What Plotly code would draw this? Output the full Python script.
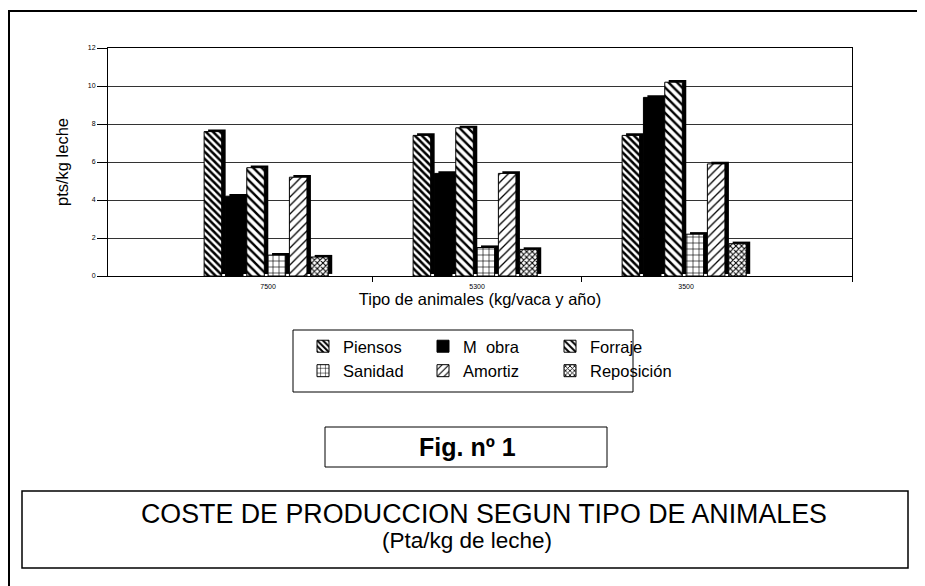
import plotly.graph_objects as go

# ---------------- data ----------------
categories = ["7500", "5300", "3500"]
series_names = ["Piensos", "M  obra", "Forraje", "Sanidad", "Amortiz", "Reposición"]
piensos = [7.6, 7.4, 7.4]
m_obra = [4.2, 5.4, 9.4]
forraje = [5.7, 7.8, 10.2]
sanidad = [1.1, 1.5, 2.2]
amortiz = [5.2, 5.4, 5.9]
reposicion = [1.0, 1.4, 1.7]
y_ticks = [0, 2, 4, 6, 8, 10, 12]

series_values = [piensos, m_obra, forraje, sanidad, amortiz, reposicion]

# ---------------- layout constants ----------------
W, H = 925, 586
OFF = 8  # page offset of the figure inside the window
L = 108 - OFF
T = 48 - OFF
R = W - (852 - OFF)
B = H - (276 - OFF)
PW = W - L - R
PH = H - T - B
FONT = "Liberation Sans, Arial, sans-serif"


def px(x_screen):
    return (x_screen - OFF - L) / PW


def py(y_screen):
    return (H - B - (y_screen - OFF)) / PH


styles = [
    dict(shape="\\", size=5, solidity=0.5),
    None,
    dict(shape="\\", size=6, solidity=0.4),
    dict(shape="+", size=6, solidity=0.2),
    dict(shape="/", size=6, solidity=0.22),
    dict(shape="x", size=4, solidity=0.45),
]
legend_of = ["legend", "legend2", "legend3", "legend", "legend2", "legend3"]

n = len(series_names)
slot = 0.102
front_w = 0.084
shadow_dx = 0.019
depth = 0.11
group_start = -slot * n / 2
xpos = list(range(len(categories)))

fig = go.Figure()
for i, (name, vals) in enumerate(zip(series_names, series_values)):
    off = group_start + i * slot
    # 3-D style shadow
    fig.add_trace(go.Bar(
        x=xpos, y=vals, base=depth, offset=off + shadow_dx, width=front_w,
        marker=dict(color="black", line=dict(width=0)),
        showlegend=False, hoverinfo="skip"))
    if styles[i] is None:
        marker = dict(color="black", line=dict(color="black", width=1))
    else:
        marker = dict(color="white", line=dict(color="black", width=1),
                      pattern=dict(fgcolor="black", bgcolor="white",
                                   fillmode="replace", **styles[i]))
    fig.add_trace(go.Bar(
        x=xpos, y=vals, offset=off, width=front_w, name=name,
        marker=marker, legend=legend_of[i], legendgroup=name))

leg_common = dict(xref="paper", yref="paper", xanchor="left", yanchor="top",
                  bgcolor="rgba(0,0,0,0)", borderwidth=0, tracegroupgap=0,
                  font=dict(family=FONT, size=16.5, color="black"), orientation="v")
legend_text_x = [343, 463, 590]
legend_top = 329

shapes = [
    # outer frame
    dict(type="line", xref="paper", yref="paper", x0=px(9), x1=px(9), y0=py(11), y1=py(600),
         line=dict(color="black", width=2)),
    dict(type="line", xref="paper", yref="paper", x0=px(8), x1=px(940), y0=py(11), y1=py(11),
         line=dict(color="black", width=2)),
    # legend box
    dict(type="rect", xref="paper", yref="paper", x0=px(293), x1=px(633), y0=py(330), y1=py(392),
         line=dict(color="black", width=1)),
    # fig box
    dict(type="rect", xref="paper", yref="paper", x0=px(325), x1=px(607), y0=py(427), y1=py(467),
         line=dict(color="black", width=1)),
    # title box
    dict(type="rect", xref="paper", yref="paper", x0=px(22), x1=px(908), y0=py(491), y1=py(568),
         line=dict(color="black", width=1.5)),
]

ann_common = dict(xref="paper", yref="paper", showarrow=False,
                  xanchor="center", yanchor="middle")
annotations = [
    dict(text="<b>Fig. nº 1</b>", x=px(467), y=py(447),
         font=dict(family=FONT, size=25, color="black"), **ann_common),
    dict(text="COSTE DE PRODUCCION SEGUN TIPO DE ANIMALES", x=px(484), y=py(514),
         font=dict(family=FONT, size=26.8, color="black"), **ann_common),
    dict(text="(Pta/kg de leche)", x=px(467), y=py(540),
         font=dict(family=FONT, size=22.5, color="black"), **ann_common),
]

fig.update_layout(
    width=W, height=H,
    margin=dict(l=L, r=R, t=T, b=B, autoexpand=False),
    paper_bgcolor="white", plot_bgcolor="white",
    barmode="overlay",
    font=dict(family=FONT, color="black"),
    xaxis=dict(
        range=[-0.766, 2.794], tickmode="array", tickvals=xpos, ticktext=categories,
        ticks="", showgrid=False, zeroline=False, tickangle=0, ticklabelstandoff=4,
        showline=True, linecolor="black", linewidth=1, mirror=True,
        tickfont=dict(size=7, family=FONT),
        minor=dict(tickmode="array", tickvals=[0.5, 1.5, 2.794], ticks="outside",
                   ticklen=5, tickcolor="black", showgrid=False),
        title=dict(text="Tipo de animales (kg/vaca y año)", standoff=2,
                   font=dict(size=16.5, family=FONT)),
    ),
    yaxis=dict(
        range=[0, 12], tickmode="array", tickvals=y_ticks, ticks="outside", ticklen=10,
        tickcolor="black", showgrid=True, gridcolor="#333", gridwidth=1, zeroline=False,
        showline=True, linecolor="black", linewidth=1, mirror=True,
        tickfont=dict(size=7, family=FONT),
        title=dict(text="pts/kg leche", standoff=15, font=dict(size=16.5, family=FONT)),
    ),
    legend=dict(x=px(legend_text_x[0] - 40), y=py(legend_top), **leg_common),
    legend2=dict(x=px(legend_text_x[1] - 40), y=py(legend_top), **leg_common),
    legend3=dict(x=px(legend_text_x[2] - 40), y=py(legend_top), **leg_common),
    shapes=shapes,
    annotations=annotations,
)

fig.write_html("out.html")
